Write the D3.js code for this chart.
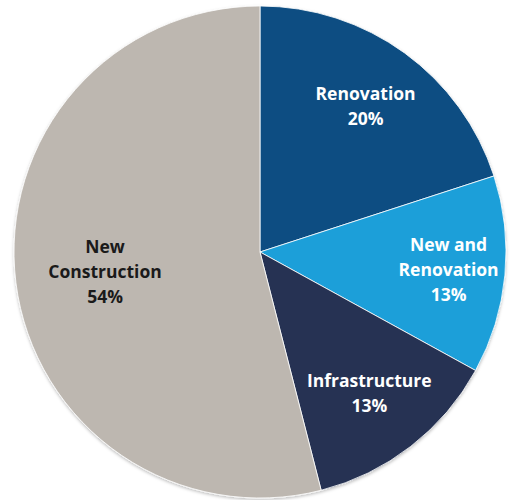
<!DOCTYPE html>
<html>
<head>
<meta charset="utf-8">
<script src="https://cdn.jsdelivr.net/npm/d3@7"></script>
<style>
  html, body { margin: 0; padding: 0; background: #ffffff; }
  svg { display: block; }
</style>
</head>
<body>
<svg id="chart" width="512" height="500"></svg>
<script>
// Project share by type of work
const categories = ["Renovation", "New and Renovation", "Infrastructure", "New Construction"];
const labelLines = [["Renovation"], ["New and", "Renovation"], ["Infrastructure"], ["New", "Construction"]];
const values = [20, 13, 13, 54];
const colors = ["#0b4d82", "#1c9fd9", "#263353", "#bdb7b0"];
const textColors = ["#ffffff", "#ffffff", "#ffffff", "#1a1a1a"];

const W = 512, H = 500;
const cx = 260, cy = 252, R = 246;
// radial placement of each label block, as a fraction of the radius
const labelRadius = [0.73, 0.77, 0.725, 0.635];

const data = categories.map((c, i) => ({ name: c, value: values[i], i }));

const svg = d3.select("#chart");
const defs = svg.append("defs");
const shadow = defs.append("filter").attr("id", "shade")
  .attr("x", "-10%").attr("y", "-10%").attr("width", "120%").attr("height", "120%");
shadow.append("feDropShadow").attr("dx", 0).attr("dy", 1.5).attr("stdDeviation", 1.5)
  .attr("flood-color", "#000").attr("flood-opacity", 0.25);

const g = svg.append("g").attr("transform", `translate(${cx},${cy})`);

const pie = d3.pie().value(d => d.value).sort(null);
const arcs = pie(data);
const arc = d3.arc().innerRadius(0).outerRadius(R);

g.append("g").attr("filter", "url(#shade)")
  .selectAll("path")
  .data(arcs)
  .join("path")
  .attr("d", arc)
  .attr("fill", d => colors[d.data.i])
  .attr("stroke", "#ffffff")
  .attr("stroke-width", 0.8);

const lineH = 25;
const capH = 12.5;

const labels = g.append("g").selectAll("text")
  .data(arcs)
  .join("text")
  .attr("text-anchor", "middle")
  .attr("font-family", "'Open Sans', Lato, sans-serif")
  .attr("font-weight", 700)
  .attr("font-size", 17.5)
  .attr("fill", d => textColors[d.data.i])
  .each(function(d) {
    const la = d3.arc().innerRadius(R * labelRadius[d.data.i]).outerRadius(R * labelRadius[d.data.i]);
    const [x, y] = la.centroid(d);
    const lines = labelLines[d.data.i].concat([d.data.value + "%"]);
    const n = lines.length;
    const firstBase = y - ((n - 1) * lineH + capH) / 2 + capH;
    const t = d3.select(this);
    lines.forEach((s, k) => {
      t.append("tspan").attr("x", x).attr("y", firstBase + k * lineH).text(s);
    });
  });
</script>
</body>
</html>
